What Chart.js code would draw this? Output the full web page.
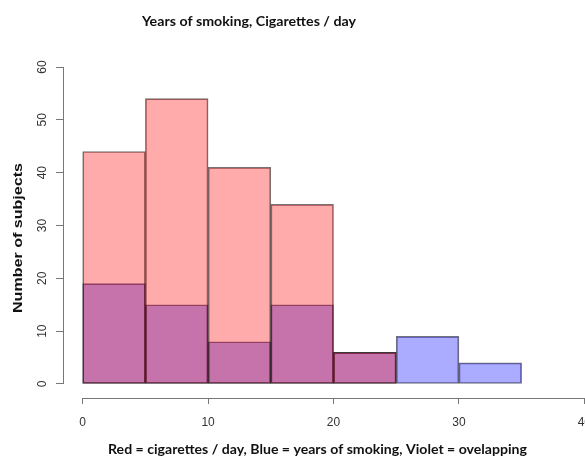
<!DOCTYPE html>
<html>
<head>
<meta charset="utf-8">
<script src="https://cdn.jsdelivr.net/npm/chart.js@4.4.1/dist/chart.umd.min.js"></script>
<style>
  html, body { margin: 0; padding: 0; background: #fff; width: 585px; height: 456px; overflow: hidden; }
  canvas { display: block; }
</style>
</head>
<body>
<canvas id="histChart" width="620" height="456"></canvas>
<script>
// histogram bins (left edge of each 5-wide bin)
const binStarts = [0, 5, 10, 15, 20, 25, 30];
const binWidth = 5;
const cigsPerDay = [44, 54, 41, 34, 6, 0, 0];
const yearsSmoking = [19, 15, 8, 15, 6, 9, 4];
const xTicks = [0, 10, 20, 30, 40];
const yTicks = [0, 10, 20, 30, 40, 50, 60];

const mainTitle = 'Years of smoking, Cigarettes / day';
const xTitle = 'Red = cigarettes / day, Blue = years of smoking, Violet = ovelapping';
const yTitle = 'Number of subjects';

function toBars(counts) {
    // skip empty bins so no zero-height outline is drawn
    return binStarts
        .map((start, i) => ({ x: start + binWidth / 2, y: counts[i] }))
        .filter(p => p.y > 0);
}

function fitText(ctx, text, cx, cy, width, font, angle) {
    ctx.save();
    ctx.font = font;
    const sx = width / ctx.measureText(text).width;
    ctx.translate(cx, cy);
    ctx.rotate(angle || 0);
    ctx.scale(sx, 1);
    ctx.textAlign = 'center';
    ctx.textBaseline = 'middle';
    ctx.fillText(text, 0, 0);
    ctx.restore();
}

// base R style axes: line only from first to last tick, rotated y labels, titles
const rAxes = {
    id: 'rAxes',
    afterDraw(chart) {
        const ctx = chart.ctx;
        const x = chart.scales.x, y = chart.scales.y;
        const area = chart.chartArea;
        ctx.save();
        ctx.strokeStyle = '#777';
        ctx.lineWidth = 1;
        ctx.beginPath();
        const by = Math.round(area.bottom) + 0.5;
        ctx.moveTo(x.getPixelForValue(xTicks[0]), by);
        ctx.lineTo(x.getPixelForValue(xTicks[xTicks.length - 1]), by);
        const lx = Math.round(area.left) + 0.5;
        ctx.moveTo(lx, y.getPixelForValue(yTicks[0]));
        ctx.lineTo(lx, y.getPixelForValue(yTicks[yTicks.length - 1]));
        ctx.stroke();

        ctx.fillStyle = '#333';
        ctx.font = '12px "Liberation Sans", Arial, sans-serif';
        ctx.textAlign = 'center';
        ctx.textBaseline = 'middle';
        yTicks.forEach(v => {
            ctx.save();
            ctx.translate(42.5, y.getPixelForValue(v));
            ctx.rotate(-Math.PI / 2);
            ctx.fillText(String(v), 0, 0);
            ctx.restore();
        });

        ctx.fillStyle = '#111';
        fitText(ctx, mainTitle, 249, 21, 214, 'bold 14px Lato, "Open Sans", sans-serif');
        fitText(ctx, xTitle, 317.5, 449, 419, 'bold 14px Lato, "Open Sans", sans-serif');
        fitText(ctx, yTitle, 18.5, 238, 150, 'bold 13px "Liberation Sans", Arial, sans-serif', -Math.PI / 2);
        ctx.restore();
    }
};

const ctxHist = document.getElementById('histChart').getContext('2d');
const histChart = new Chart(ctxHist, {
    type: 'bar',
    data: {
        datasets: [
            {
                label: 'Cigarettes / day',
                data: toBars(cigsPerDay),
                backgroundColor: 'rgba(255, 0, 0, 0.33)',
                borderColor: 'rgba(30, 20, 20, 0.6)',
                borderWidth: 1,
                borderSkipped: false
            },
            {
                label: 'Years of smoking',
                data: toBars(yearsSmoking),
                backgroundColor: 'rgba(0, 0, 255, 0.33)',
                borderColor: 'rgba(20, 20, 40, 0.6)',
                borderWidth: 1,
                borderSkipped: false
            }
        ]
    },
    options: {
        responsive: false,
        animation: false,
        grouped: false,
        barPercentage: 1,
        categoryPercentage: 1,
        layout: { padding: { top: 53, right: 16, left: 0, bottom: 0 } },
        plugins: {
            legend: { display: false },
            tooltip: { enabled: false }
        },
        scales: {
            x: {
                type: 'linear',
                offset: false,
                min: -1.57,
                max: 41.57,
                afterBuildTicks: s => { s.ticks = xTicks.map(v => ({ value: v })); },
                afterFit: s => { s.height = 58; },
                border: { display: false },
                grid: { drawOnChartArea: false, drawTicks: true, tickLength: 6, color: '#777', offset: false },
                ticks: {
                    color: '#333',
                    padding: 11,
                    maxRotation: 0,
                    font: { family: '"Liberation Sans", Arial, sans-serif', size: 12 }
                }
            },
            y: {
                min: -2.65,
                max: 62.65,
                afterBuildTicks: s => { s.ticks = yTicks.map(v => ({ value: v })); },
                afterFit: s => { s.width = 63; },
                border: { display: false },
                grid: { drawOnChartArea: false, drawTicks: true, tickLength: 7, color: '#777' },
                ticks: { display: false }
            }
        }
    },
    plugins: [rAxes]
});
</script>
</body>
</html>
